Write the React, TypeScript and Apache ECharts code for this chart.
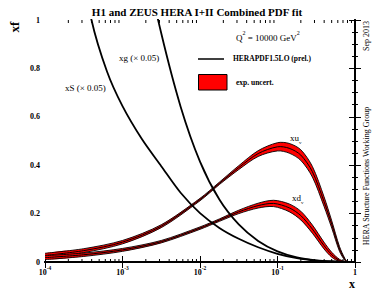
import React, { useEffect, useRef } from 'react';
import * as echarts from 'echarts';

// log10(x) positions and values
const XU_X = [-4, -3.5, -3, -2.5, -2, -1.75, -1.5, -1.25, -1, -0.85, -0.7, -0.55, -0.4, -0.3, -0.2, -0.13, -0.1];
const XU = [0.027, 0.047, 0.082, 0.148, 0.258, 0.325, 0.39, 0.448, 0.476, 0.47, 0.442, 0.373, 0.25, 0.155, 0.054, 0.01, 0];
const XU_ERR = [0.009, 0.008, 0.007, 0.006, 0.005, 0.005, 0.008, 0.012, 0.017, 0.02, 0.022, 0.022, 0.02, 0.015, 0.01, 0.004, 0.001];

const XD_X = [-4, -3.5, -3, -2.5, -2, -1.75, -1.5, -1.25, -1.05, -0.85, -0.7, -0.55, -0.4, -0.3, -0.2, -0.12];
const XD = [0.018, 0.03, 0.05, 0.084, 0.14, 0.173, 0.207, 0.233, 0.242, 0.224, 0.192, 0.136, 0.068, 0.03, 0.006, 0];
const XD_ERR = [0.008, 0.007, 0.006, 0.005, 0.005, 0.005, 0.007, 0.01, 0.013, 0.016, 0.018, 0.017, 0.014, 0.01, 0.005, 0.001];

const XS_X = [-4, -3.7, -3.4, -3.2, -3, -2.75, -2.5, -2.25, -2, -1.75, -1.5, -1.25, -1, -0.75, -0.5, -0.25, -0.1];
const XS = [2.28, 1.5, 1.0, 0.787, 0.644, 0.508, 0.396, 0.286, 0.202, 0.141, 0.096, 0.061, 0.034, 0.016, 0.006, 0.0015, 0];

const XG_X = [-3.2, -3, -2.75, -2.5, -2.25, -2, -1.75, -1.5, -1.25, -1, -0.75, -0.5, -0.25, -0.1];
const XG = [2.16, 1.75, 1.31, 0.945, 0.642, 0.415, 0.258, 0.155, 0.087, 0.044, 0.019, 0.0068, 0.0015, 0];

const X_DECADES = [-4, -3, -2, -1];
const MINOR_MULT = [2, 3, 4, 5, 6, 7, 8, 9];

const FONT = '"Liberation Serif", "DejaVu Serif", serif';
const SMOOTH = 0.3;

function bandSeries(name: string, xs: number[], c: number[], e: number[]) {
  return {
    type: 'custom', name, data: [0], clip: true, silent: true, z: 3,
    renderItem: (params: any, api: any) => {
      const up = xs.map((x, i) => api.coord([x, c[i] + e[i]]));
      const lo = xs.map((x, i) => api.coord([x, Math.max(0, c[i] - e[i])]));
      const ce = xs.map((x, i) => api.coord([x, c[i]]));
      const poly = up.concat(lo.slice().reverse());
      return {
        type: 'group',
        children: [
          { type: 'polygon', shape: { points: poly, smooth: SMOOTH }, style: { fill: '#ff0000', stroke: null } },
          { type: 'polyline', shape: { points: up, smooth: SMOOTH }, style: { stroke: '#000', lineWidth: 0.9, fill: null } },
          { type: 'polyline', shape: { points: lo, smooth: SMOOTH }, style: { stroke: '#000', lineWidth: 0.9, fill: null } },
          { type: 'polyline', shape: { points: ce, smooth: SMOOTH }, style: { stroke: '#000', lineWidth: 1, fill: null } },
        ],
      };
    },
  };
}

export default function App() {
  const ref = useRef<HTMLDivElement>(null);
  useEffect(() => {
    if (!ref.current) return;
    const chart = echarts.init(ref.current, undefined, { renderer: 'svg' });
    const minors: number[] = [];
    X_DECADES.forEach((d) => MINOR_MULT.forEach((m) => minors.push(d + Math.log10(m))));

    const axisCommon = {
      axisLine: { show: true, lineStyle: { color: '#000', width: 2 } },
      splitLine: { show: false },
    };
    const tick = { show: true, inside: true, length: 6, lineStyle: { color: '#000', width: 1 } };
    const minorTick = { show: true, splitNumber: 4, length: 3, lineStyle: { color: '#000', width: 1 } };
    const option: any = {
      animation: false,
      grid: { left: 45, right: 19, top: 20, bottom: 29 },
      xAxis: [
        {
          ...axisCommon, type: 'value', min: -4, max: 0, interval: 1, position: 'bottom', axisTick: tick,
          axisLabel: {
            margin: 3, showMinLabel: true, showMaxLabel: true,
            formatter: (v: number) => (v === 0 ? '{b|1}' : `{b|10}{s|${v}}`),
            rich: {
              b: { fontFamily: FONT, fontWeight: 'bold', fontSize: 8, color: '#000', lineHeight: 11, verticalAlign: 'bottom' },
              s: { fontFamily: FONT, fontWeight: 'bold', fontSize: 5.5, color: '#000', lineHeight: 7, verticalAlign: 'top' },
            },
          },
        },
        {
          ...axisCommon, type: 'value', min: -4, max: 0, interval: 1, position: 'top', axisTick: tick,
          axisLabel: { show: false },
        },
      ],
      yAxis: [
        {
          ...axisCommon, type: 'value', min: 0, max: 1, interval: 0.2, position: 'left', axisTick: tick, minorTick,
          axisLabel: {
            margin: 5, color: '#000', fontFamily: FONT, fontWeight: 'bold', fontSize: 8,
            formatter: (v: number) => (v === 0 ? '0' : v === 1 ? '1' : v.toFixed(1)),
          },
        },
        {
          ...axisCommon, type: 'value', min: 0, max: 1, interval: 0.2, position: 'right', axisTick: tick, minorTick,
          axisLabel: { show: false },
        },
      ],
      series: [
        bandSeries('xu', XU_X, XU, XU_ERR),
        bandSeries('xd', XD_X, XD, XD_ERR),
        { type: 'line', name: 'xS', data: XS_X.map((x, i) => [x, XS[i]]), showSymbol: false, smooth: SMOOTH, clip: true, lineStyle: { color: '#000', width: 1.8 }, z: 5 },
        { type: 'line', name: 'xg', data: XG_X.map((x, i) => [x, XG[i]]), showSymbol: false, smooth: SMOOTH, clip: true, lineStyle: { color: '#000', width: 1.8 }, z: 5 },
        {
          type: 'custom', name: 'minor', data: minors, silent: true, z: 6,
          renderItem: (params: any, api: any) => {
            const v = api.value(0);
            const b = api.coord([v, 0]);
            const t = api.coord([v, 1]);
            return {
              type: 'group',
              children: [
                { type: 'line', shape: { x1: b[0], y1: b[1], x2: b[0], y2: b[1] - 3 }, style: { stroke: '#000', lineWidth: 1 } },
                { type: 'line', shape: { x1: t[0], y1: t[1], x2: t[0], y2: t[1] + 3 }, style: { stroke: '#000', lineWidth: 1 } },
              ],
            };
          },
          encode: { x: 0 },
        },
      ],
      graphic: [
        { type: 'text', x: 197, y: 12, style: { text: 'H1 and ZEUS HERA I+II Combined PDF fit', font: `bold 11px ${FONT}`, fill: '#000', textAlign: 'center', textVerticalAlign: 'middle', align: 'center', verticalAlign: 'middle' } },
        { type: 'text', x: 14, y: 27, rotation: Math.PI / 2, style: { text: 'xf', font: `bold 13px ${FONT}`, fill: '#000', textAlign: 'center', textVerticalAlign: 'middle', align: 'center', verticalAlign: 'middle' } },
        { type: 'text', x: 352, y: 284, style: { text: 'x', font: `bold 12px ${FONT}`, fill: '#000', textAlign: 'center', textVerticalAlign: 'middle', align: 'center', verticalAlign: 'middle' } },
        { type: 'text', x: 366, y: 36, rotation: Math.PI / 2, style: { text: 'Sep 2013', font: `8px ${FONT}`, fill: '#000', textAlign: 'center', textVerticalAlign: 'middle', align: 'center', verticalAlign: 'middle' } },
        { type: 'text', x: 366, y: 176, rotation: Math.PI / 2, style: { text: 'HERA Structure Functions Working Group', font: `8px ${FONT}`, fill: '#000', textAlign: 'center', textVerticalAlign: 'middle', align: 'center', verticalAlign: 'middle' } },
        {
          type: 'text', x: 236, y: 36,
          style: {
            text: '{a|Q}{s|2}{a| = 10000 GeV}{s|2}', textAlign: 'left', textVerticalAlign: 'middle', align: 'left', verticalAlign: 'middle',
            rich: {
              a: { font: `9px ${FONT}`, fill: '#000', lineHeight: 12, verticalAlign: 'bottom' },
              s: { font: `6px ${FONT}`, fill: '#000', lineHeight: 7, verticalAlign: 'top' },
            },
          },
        },
        { type: 'line', shape: { x1: 198, y1: 59, x2: 224, y2: 59 }, style: { stroke: '#000', lineWidth: 1.5 } },
        { type: 'text', x: 233, y: 58, style: { text: 'HERAPDF1.5LO (prel.)', font: `bold 7.5px ${FONT}`, fill: '#000', textAlign: 'left', textVerticalAlign: 'middle', align: 'left', verticalAlign: 'middle' } },
        { type: 'rect', shape: { x: 198.5, y: 74.5, width: 28.5, height: 15.5 }, style: { fill: '#ff0000', stroke: '#000', lineWidth: 1 } },
        { type: 'text', x: 236, y: 82, style: { text: 'exp. uncert.', font: `bold 7.5px ${FONT}`, fill: '#000', textAlign: 'left', textVerticalAlign: 'middle', align: 'left', verticalAlign: 'middle' } },
        { type: 'text', x: 65, y: 88, style: { text: 'xS (× 0.05)', font: `9px ${FONT}`, fill: '#000', textAlign: 'left', textVerticalAlign: 'middle', align: 'left', verticalAlign: 'middle' } },
        { type: 'text', x: 119, y: 58, style: { text: 'xg (× 0.05)', font: `9px ${FONT}`, fill: '#000', textAlign: 'left', textVerticalAlign: 'middle', align: 'left', verticalAlign: 'middle' } },
        {
          type: 'text', x: 290, y: 139,
          style: {
            text: '{a|xu}{s|v}', textAlign: 'left', textVerticalAlign: 'middle', align: 'left', verticalAlign: 'middle',
            rich: {
              a: { font: `9px ${FONT}`, fill: '#000', lineHeight: 12, verticalAlign: 'top' },
              s: { font: `5px ${FONT}`, fill: '#000', lineHeight: 6, verticalAlign: 'bottom' },
            },
          },
        },
        {
          type: 'text', x: 292, y: 199,
          style: {
            text: '{a|xd}{s|v}', textAlign: 'left', textVerticalAlign: 'middle', align: 'left', verticalAlign: 'middle',
            rich: {
              a: { font: `9px ${FONT}`, fill: '#000', lineHeight: 12, verticalAlign: 'top' },
              s: { font: `5px ${FONT}`, fill: '#000', lineHeight: 6, verticalAlign: 'bottom' },
            },
          },
        },
      ],
    };
    chart.setOption(option);
    return () => chart.dispose();
  }, []);
  return <div ref={ref} style={{ width: 374, height: 291, position: 'absolute', left: 0, top: 0 }} />;
}
